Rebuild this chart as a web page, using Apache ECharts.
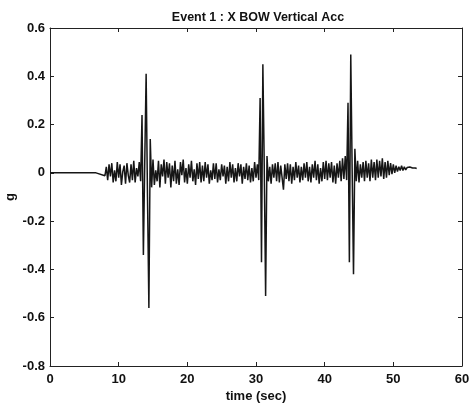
<!DOCTYPE html>
<html><head><meta charset="utf-8">
<script src="https://cdn.jsdelivr.net/npm/echarts@6/dist/echarts.min.js"></script>
<style>html,body{margin:0;padding:0;background:#fff}#c{width:473px;height:409px}</style>
</head><body><div id="c"></div>
<script>
// quiet lead-in before the signal starts
const leadTimes = [0, 6.7, 8.0];
const leadValues = [0, 0, -0.012];
// main record sampled every 0.2 s starting at 8.2 s
const recStart = 8.2;
const recStep = 0.2;
const recValues = [
  0.025, -0.03, 0.035, -0.015,
  0.04, -0.04, 0.01, -0.035, 0.045,
  -0.02, 0.035, -0.05, 0.005, 0.03,
  -0.045, 0.04, -0.01, -0.04, 0.035,
  -0.03, 0.05, -0.04, 0.02, -0.015,
  0.045, -0.035, 0.24, -0.34, 0.05,
  0.41, -0.1, -0.56, 0.14, -0.06,
  0.055, -0.05, 0.01, -0.035, 0.05,
  -0.06, 0.035, -0.015, 0.055, -0.045,
  0.045, -0.02, 0.04, -0.06, 0.03,
  -0.035, 0.05, -0.045, 0.015, -0.05,
  0.045, -0.01, 0.055, -0.04, 0.02,
  -0.045, 0.035, -0.02, 0.05, -0.035,
  0.015, -0.05, 0.04, -0.025, 0.045,
  -0.04, 0.03, -0.035, 0.045, -0.02,
  0.035, -0.045, 0.01, -0.03, 0.04,
  -0.025, 0.04, -0.04, 0.015, -0.03,
  0.035, -0.015, 0.03, -0.045, 0.025,
  -0.035, 0.045, -0.02, 0.035, -0.04,
  0.02, -0.035, 0.04, -0.015, 0.035,
  -0.045, 0.025, -0.025, 0.04, -0.03,
  0.03, -0.04, 0.02, -0.035, 0.045,
  -0.02, 0.035, -0.03, 0.31, -0.37,
  0.45, 0.03, -0.51, 0.07, -0.035,
  0.025, -0.045, 0.035, -0.02, 0.04,
  -0.035, 0.045, -0.04, 0.03, -0.02,
  -0.07, 0.035, -0.025, 0.04, -0.035,
  0.035, -0.045, 0.025, -0.03, 0.045,
  -0.02, 0.03, -0.04, 0.025, -0.03,
  0.04, -0.02, 0.045, -0.035, 0.025,
  -0.04, 0.035, -0.02, 0.05, -0.03,
  0.035, -0.045, 0.02, -0.035, 0.045,
  -0.025, 0.05, -0.03, 0.04, -0.02,
  0.045, -0.04, 0.03, -0.045, 0.04,
  -0.02, 0.05, -0.035, 0.06, -0.025,
  0.07, -0.03, 0.29, -0.37, 0.49,
  0.02, -0.42, 0.1, -0.035, 0.05,
  -0.04, 0.035, -0.02, 0.045, -0.035,
  0.05, -0.02, 0.04, -0.035, 0.055,
  -0.02, 0.045, -0.03, 0.055, -0.02,
  0.05, -0.015, 0.06, -0.025, 0.045,
  -0.02, 0.05, -0.01, 0.04, -0.005,
  0.035, 0.0, 0.03, 0.005, 0.025,
  0.01, 0.03, 0.01, 0.025, 0.012,
  0.022, 0.014, 0.024, 0.016, 0.02,
  0.015, 0.02, 0.018
];
const xTicks = [0, 10, 20, 30, 40, 50, 60];
const yTicks = [-0.8, -0.6, -0.4, -0.2, 0, 0.2, 0.4, 0.6];

const data = [];
for (let i = 0; i < leadTimes.length; i++) data.push([leadTimes[i], leadValues[i]]);
for (let i = 0; i < recValues.length; i++) data.push([+(recStart + i * recStep).toFixed(2), recValues[i]]);

const font = '"Liberation Sans", Arial, sans-serif';
const lab = {color: '#111', fontFamily: font, fontWeight: 'bold', fontSize: 13};
const axisCommon = {
  axisLine: {show: true, onZero: false, lineStyle: {color: '#222', width: 1}},
  axisTick: {show: true, inside: true, length: 4, lineStyle: {color: '#222'}},
  splitLine: {show: false}
};
const chart = echarts.init(document.getElementById('c'), null, {renderer: 'canvas'});
chart.setOption({
  animation: false,
  backgroundColor: '#fff',
  title: {text: 'Event 1 : X BOW Vertical Acc', left: 253, textAlign: 'center', top: 6,
    textStyle: {color: '#111', fontFamily: font, fontWeight: 'bold', fontSize: 12.5}},
  grid: {left: 50, right: 11, top: 28, bottom: 43, containLabel: false, outerBoundsMode: 'none'},
  xAxis: [
    Object.assign({type: 'value', min: xTicks[0], max: xTicks[xTicks.length - 1], interval: 10,
      name: 'time (sec)', nameLocation: 'middle', nameGap: 24, nameMoveOverlap: false, nameTextStyle: lab,
      axisLabel: Object.assign({margin: 7}, lab)}, axisCommon),
    Object.assign({type: 'value', position: 'top', min: 0, max: 60, interval: 10,
      axisLabel: {show: false}}, axisCommon)
  ],
  yAxis: [
    Object.assign({type: 'value', min: yTicks[0], max: yTicks[yTicks.length - 1], interval: 0.2,
      name: 'g', nameLocation: 'middle', nameGap: 33, nameMoveOverlap: false, nameTextStyle: lab,
      axisLabel: Object.assign({margin: 5, formatter: v => (Math.abs(v) < 1e-9 ? '0' : String(+v.toFixed(1)))}, lab)}, axisCommon),
    Object.assign({type: 'value', position: 'right', min: -0.8, max: 0.6, interval: 0.2,
      axisLabel: {show: false}}, axisCommon)
  ],
  series: [{
    type: 'line', data: data, showSymbol: false, symbol: 'none',
    lineStyle: {color: '#161616', width: 1.5}
  }]
});
</script></body></html>
